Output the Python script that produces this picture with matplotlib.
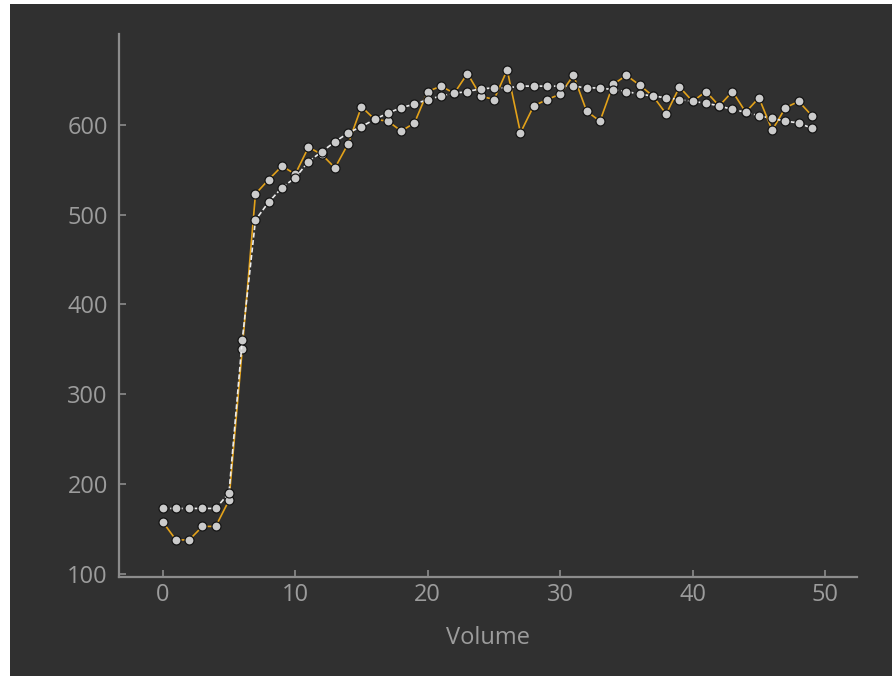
"""
plot.py: raw vs smoothed series over volume, dark theme.
"""

import matplotlib.pyplot as plt
from matplotlib.patches import Rectangle

# data
volume = list(range(50))
raw = [158, 138, 138, 153, 153, 182, 350, 523, 539, 554,
       545, 575, 567, 552, 579, 620, 606, 604, 593, 602,
       637, 643, 635, 657, 632, 628, 661, 591, 621, 628,
       634, 655, 615, 604, 645, 655, 644, 632, 612, 642,
       626, 637, 621, 637, 614, 630, 594, 619, 626, 610]
smooth = [173, 173, 173, 173, 173, 190, 360, 494, 514, 530,
          541, 559, 570, 581, 591, 598, 606, 613, 619, 623,
          628, 632, 635, 637, 640, 641, 641, 643, 643, 643,
          643, 643, 641, 641, 639, 637, 634, 632, 630, 628,
          626, 624, 621, 617, 614, 610, 607, 604, 602, 596]
x_ticks = [0, 10, 20, 30, 40, 50]
y_ticks = [100, 200, 300, 400, 500, 600]

bg = "#303030"
axis_col = "#8c8c8c"
text_col = "#9c9c9c"

plt.rcParams["font.family"] = ["Open Sans", "DejaVu Sans"]

fig = plt.figure(figsize=(8.92, 6.76), dpi=100, facecolor=bg)
# thin white strips on the left and top edges
fig.patches.append(Rectangle((0, 0), 10 / 892, 1, transform=fig.transFigure,
                             facecolor="white", edgecolor="none", zorder=-10))
fig.patches.append(Rectangle((0, 1 - 4 / 676), 1, 4 / 676,
                             transform=fig.transFigure, facecolor="white",
                             edgecolor="none", zorder=-10))

ax = fig.add_axes([119 / 892, 99 / 676, (857 - 119) / 892, (642 - 99) / 676])
ax.set_facecolor(bg)

marker_kw = dict(marker="o", markersize=6.5, markerfacecolor="#cbcbcb",
                 markeredgecolor="#151515", markeredgewidth=0.9)
ax.plot(volume, raw, color="#e3a21a", linewidth=1.2, **marker_kw)
ax.plot(volume, smooth, color="#ececec", linewidth=1.2,
        linestyle=(0, (3, 1.5)), **marker_kw)

ax.set_xlim(-3.3, 52.4)
ax.set_ylim(96.7, 701)
ax.set_xticks(x_ticks)
ax.set_yticks(y_ticks)

for side in ("top", "right"):
    ax.spines[side].set_visible(False)
for side in ("left", "bottom"):
    ax.spines[side].set_color(axis_col)
    ax.spines[side].set_linewidth(1.6)

ax.tick_params(axis="both", direction="in", length=5, width=1.2,
               color=axis_col, labelcolor=text_col, labelsize=17)
ax.tick_params(axis="x", pad=4)
ax.tick_params(axis="y", pad=8)

ax.set_xlabel("Volume", color=text_col, fontsize=17, labelpad=14)

fig.savefig("out.png", dpi=100, facecolor=fig.get_facecolor())
